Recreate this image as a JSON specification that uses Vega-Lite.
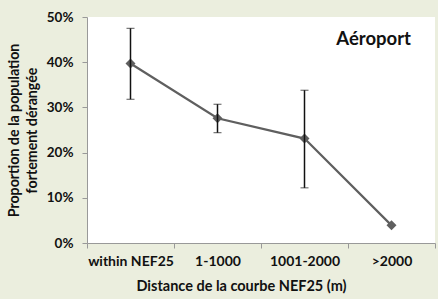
{
  "$schema": "https://vega.github.io/schema/vega-lite/v6.json",
  "autosize": {"type": "none"},
  "width": 348,
  "height": 226,
  "padding": {"left": 87, "top": 17, "right": 3, "bottom": 56},
  "background": "#EBEEDE",
  "title": {"text": "Aéroport", "anchor": "end", "orient": "top", "offset": -38, "dx": -24, "font": "Lato", "fontWeight": "bold", "fontSize": 18.5, "color": "#111", "frame": "group"},
  "config": {
    "view": {"fill": "white", "stroke": null},
    "font": "Lato",
    "axis": {"labelFont": "Lato", "titleFont": "Lato", "labelFontWeight": "bold", "titleFontWeight": "bold", "labelColor": "#111", "titleColor": "#111", "domainColor": "#999", "tickColor": "#999", "grid": false}
  },
  "data": {
    "values": [
      {"cat": "within NEF25", "v": 0.397, "lo": 0.318, "hi": 0.475},
      {"cat": "1-1000", "v": 0.276, "lo": 0.244, "hi": 0.307},
      {"cat": "1001-2000", "v": 0.231, "lo": 0.122, "hi": 0.338},
      {"cat": ">2000", "v": 0.039, "lo": 0.039, "hi": 0.039}
    ]
  },
  "resolve": {"axis": {"y": "independent"}},
  "layer": [
    {
      "mark": {"type": "line", "color": "#5F5F5F", "strokeWidth": 2.2},
      "encoding": {
        "x": {
          "field": "cat", "type": "nominal", "sort": null,
          "scale": {"paddingInner": 0, "paddingOuter": 0},
          "axis": {"labelAngle": 0, "labelFontSize": 14, "labelPadding": 6, "tickBand": "extent", "tickSize": 5, "title": "Distance de la courbe NEF25 (m)", "titleFontSize": 14.5, "titlePadding": 11, "titleX": 154}
        },
        "y": {
          "field": "v", "type": "quantitative",
          "scale": {"domain": [0, 0.5]},
          "axis": {"format": ".0%", "values": [0, 0.1, 0.2, 0.3, 0.4, 0.5], "labelFontSize": 13.5, "labelPadding": 9, "tickSize": 5, "title": ["Proportion de la population", "fortement dérangée"], "titleFontSize": 14.2, "titlePadding": 7, "titleLineHeight": 18}
        }
      }
    },
    {
      "mark": {"type": "point", "shape": "diamond", "filled": true, "color": "#5F5F5F", "size": 100, "opacity": 1},
      "encoding": {
        "x": {"field": "cat", "type": "nominal", "sort": null},
        "y": {"field": "v", "type": "quantitative", "axis": null}
      }
    },
    {
      "mark": {"type": "errorbar", "ticks": {"size": 8, "color": "#111", "strokeWidth": 1.5}, "rule": {"color": "#111", "strokeWidth": 1.5}},
      "transform": [{"filter": "datum.hi > datum.lo"}],
      "encoding": {
        "x": {"field": "cat", "type": "nominal", "sort": null},
        "y": {"field": "lo", "type": "quantitative", "axis": null},
        "y2": {"field": "hi"}
      }
    }
  ]
}
